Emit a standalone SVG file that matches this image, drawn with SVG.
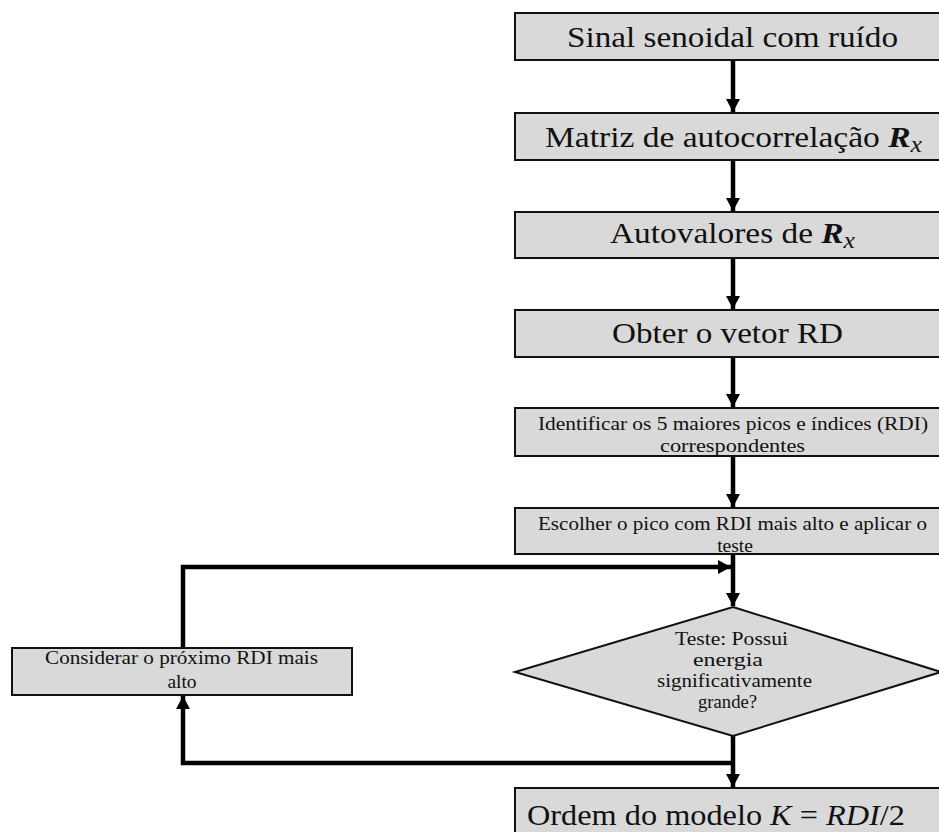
<svg xmlns="http://www.w3.org/2000/svg" width="939" height="832" viewBox="0 0 939 832">
<style>
.box{fill:#d9d9d9;stroke:#111;stroke-width:2}
.t{font-family:"Liberation Serif","DejaVu Serif",serif;fill:#111;text-anchor:middle}
.big{font-size:30px}
.sm{font-size:19.5px}
.dm{font-size:18.5px}
.m{font-style:italic}
.mb{font-style:italic;font-weight:bold}
.c{fill:none;stroke:#000;stroke-width:4.5}
</style>
<defs>
<marker id="ah" markerUnits="userSpaceOnUse" markerWidth="14" markerHeight="14" viewBox="0 0 14 14" refX="13" refY="7" orient="auto">
<path d="M0,0 L13,7 L0,14 Z" fill="#000"/>
</marker>
</defs>
<rect width="939" height="832" fill="#fff"/>
<g id="connectors">
<line class="c" x1="733" y1="61" x2="733" y2="112" marker-end="url(#ah)"/>
<line class="c" x1="733" y1="161" x2="733" y2="211" marker-end="url(#ah)"/>
<line class="c" x1="733" y1="259" x2="733" y2="309" marker-end="url(#ah)"/>
<line class="c" x1="733" y1="358" x2="733" y2="407" marker-end="url(#ah)"/>
<line class="c" x1="733" y1="457" x2="733" y2="507" marker-end="url(#ah)"/>
<line class="c" x1="733" y1="555" x2="733" y2="606" marker-end="url(#ah)"/>
<polyline class="c" points="183,647 183,567 731,567" marker-end="url(#ah)"/>
<line class="c" x1="733" y1="736" x2="733" y2="787" marker-end="url(#ah)"/>
<polyline class="c" points="733,763 183,763 183,696" marker-end="url(#ah)"/>
</g>
<g id="n1">
<rect class="box" x="515" y="13" width="440" height="47"/>
<text class="t big" x="732.5" y="47" textLength="331" lengthAdjust="spacingAndGlyphs">Sinal senoidal com ruído</text>
</g>
<g id="n2">
<rect class="box" x="515" y="113" width="440" height="47"/>
<text class="t big" x="733.5" y="147" textLength="377" lengthAdjust="spacingAndGlyphs">Matriz de autocorrelação <tspan class="mb">R</tspan><tspan class="m" font-size="23px" dy="5">x</tspan></text>
</g>
<g id="n3">
<rect class="box" x="515" y="212" width="440" height="46"/>
<text class="t big" x="732.5" y="243" textLength="245" lengthAdjust="spacingAndGlyphs">Autovalores de <tspan class="mb">R</tspan><tspan class="m" font-size="23px" dy="5">x</tspan></text>
</g>
<g id="n4">
<rect class="box" x="515" y="310" width="440" height="47"/>
<text class="t big" x="727.5" y="343" textLength="231" lengthAdjust="spacingAndGlyphs">Obter o vetor RD</text>
</g>
<g id="n5">
<rect class="box" x="515" y="408" width="440" height="48"/>
<text class="t sm" x="733" y="430" textLength="390" lengthAdjust="spacingAndGlyphs">Identificar os 5 maiores picos e índices (RDI)</text>
<text class="t sm" x="732.5" y="452" textLength="145" lengthAdjust="spacingAndGlyphs">correspondentes</text>
</g>
<g id="n6">
<rect class="box" x="515" y="508" width="440" height="46"/>
<text class="t sm" x="732.5" y="530" textLength="389" lengthAdjust="spacingAndGlyphs">Escolher o pico com RDI mais alto e aplicar o</text>
<text class="t sm" x="735" y="552">teste</text>
</g>
<g id="n7">
<polygon class="box" points="733,607 941,672 733,736 515,672"/>
<text class="t dm" x="731.5" y="645" textLength="113" lengthAdjust="spacingAndGlyphs">Teste: Possui</text>
<text class="t dm" x="728" y="666" textLength="70" lengthAdjust="spacingAndGlyphs">energia</text>
<text class="t dm" x="734.5" y="687" textLength="155" lengthAdjust="spacingAndGlyphs">significativamente</text>
<text class="t dm" x="727.5" y="708" textLength="59" lengthAdjust="spacingAndGlyphs">grande?</text>
</g>
<g id="n8">
<rect class="box" x="12" y="648" width="340" height="47"/>
<text class="t sm" x="181.5" y="664" textLength="273" lengthAdjust="spacingAndGlyphs">Considerar o próximo RDI mais</text>
<text class="t sm" x="182" y="688">alto</text>
</g>
<g id="n9">
<rect class="box" x="515" y="788" width="440" height="60"/>
<text class="t big" x="716" y="825" textLength="378" lengthAdjust="spacingAndGlyphs">Ordem do modelo <tspan class="m">K</tspan> = <tspan class="m">RDI</tspan>/2</text>
</g>
</svg>
